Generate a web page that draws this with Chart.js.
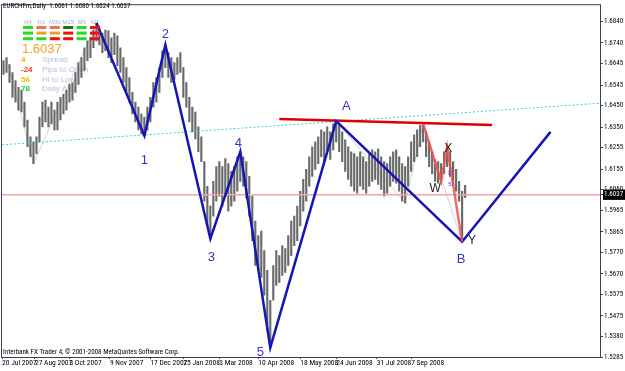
<!DOCTYPE html>
<html>
<head>
<meta charset="utf-8">
<script src="https://cdn.jsdelivr.net/npm/chart.js@4.4.1/dist/chart.umd.min.js"></script>
<style>
html, body { margin: 0; padding: 0; background: #fff; }
#wrap { width: 625px; height: 371px; }
</style>
</head>
<body>
<div id="wrap"><canvas id="chart" width="625" height="371"></canvas></div>
<script>
// EURCHFm daily bars, index 0 = 20 Jul 2007
const barHigh = [
    1.6658, 1.6672, 1.6640, 1.6603, 1.6566, 1.6534, 1.6521, 1.6466, 1.6383, 1.6305,
    1.6282, 1.6305, 1.6397, 1.6466, 1.6475, 1.6443, 1.6466, 1.6429, 1.6466, 1.6488,
    1.6502, 1.6521, 1.6548, 1.6557, 1.6603, 1.6649, 1.6672, 1.6718, 1.6750, 1.6764,
    1.6800, 1.6832, 1.6809, 1.6786, 1.6800, 1.6796, 1.6764, 1.6786, 1.6773, 1.6718,
    1.6672, 1.6626, 1.6580, 1.6511, 1.6466, 1.6443, 1.6411, 1.6397, 1.6443, 1.6488,
    1.6557, 1.6580, 1.6626, 1.6704, 1.6731, 1.6695, 1.6672, 1.6649, 1.6672, 1.6695,
    1.6626, 1.6557, 1.6488, 1.6443, 1.6420, 1.6351, 1.6305, 1.6190, 1.6076, 1.5984,
    1.6099, 1.6167, 1.6190, 1.6167, 1.6204, 1.6181, 1.6145, 1.6167, 1.6213, 1.6236,
    1.6213, 1.6190, 1.6122, 1.6030, 1.5915, 1.5847, 1.5869, 1.5778, 1.5686, 1.5548,
    1.5709, 1.5778, 1.5755, 1.5801, 1.5787, 1.5847, 1.5915, 1.5938, 1.5984, 1.6053,
    1.6108, 1.6154, 1.6213, 1.6259, 1.6282, 1.6305, 1.6337, 1.6328, 1.6351, 1.6328,
    1.6365, 1.6378, 1.6365, 1.6328, 1.6291, 1.6259, 1.6236, 1.6227, 1.6213, 1.6236,
    1.6213, 1.6190, 1.6227, 1.6245, 1.6236, 1.6250, 1.6213, 1.6190, 1.6181, 1.6213,
    1.6236, 1.6245, 1.6213, 1.6181, 1.6167, 1.6213, 1.6282, 1.6314, 1.6337, 1.6360,
    1.6365, 1.6328, 1.6282, 1.6236, 1.6200, 1.6190, 1.6181, 1.6236, 1.6259, 1.6236,
    1.6190, 1.6154, 1.6099, 1.6053, 1.6080
];
const barLow = [
    1.6594, 1.6603, 1.6557, 1.6488, 1.6466, 1.6429, 1.6420, 1.6351, 1.6259, 1.6213,
    1.6181, 1.6227, 1.6282, 1.6351, 1.6374, 1.6351, 1.6365, 1.6337, 1.6337, 1.6383,
    1.6411, 1.6429, 1.6466, 1.6475, 1.6511, 1.6548, 1.6580, 1.6612, 1.6658, 1.6672,
    1.6718, 1.6750, 1.6731, 1.6695, 1.6704, 1.6672, 1.6649, 1.6686, 1.6635, 1.6603,
    1.6557, 1.6502, 1.6466, 1.6411, 1.6374, 1.6337, 1.6319, 1.6310, 1.6337, 1.6374,
    1.6443, 1.6466, 1.6511, 1.6580, 1.6626, 1.6580, 1.6557, 1.6571, 1.6594, 1.6603,
    1.6488, 1.6443, 1.6374, 1.6328, 1.6296, 1.6236, 1.6190, 1.6007, 1.5892, 1.5833,
    1.5938, 1.6007, 1.6030, 1.5984, 1.6030, 1.5961, 1.5984, 1.6007, 1.6053, 1.6099,
    1.6076, 1.6021, 1.5938, 1.5824, 1.5709, 1.5686, 1.5654, 1.5571, 1.5411, 1.5328,
    1.5548, 1.5617, 1.5631, 1.5663, 1.5677, 1.5709, 1.5755, 1.5801, 1.5824, 1.5892,
    1.5961, 1.6007, 1.6076, 1.6122, 1.6154, 1.6181, 1.6213, 1.6190, 1.6236, 1.6200,
    1.6245, 1.6282, 1.6236, 1.6190, 1.6145, 1.6108, 1.6076, 1.6053, 1.6044, 1.6076,
    1.6062, 1.6044, 1.6076, 1.6099, 1.6108, 1.6085, 1.6062, 1.6030, 1.6044, 1.6076,
    1.6099, 1.6090, 1.6053, 1.6007, 1.5998, 1.6076, 1.6145, 1.6190, 1.6213, 1.6259,
    1.6282, 1.6213, 1.6167, 1.6135, 1.6099, 1.6090, 1.6099, 1.6135, 1.6167, 1.6122,
    1.6076, 1.6053, 1.6007, 1.5819, 1.6024
];

const dateLabels = ['20 Jul 2007', '27 Aug 2007', '3 Oct 2007', '9 Nov 2007', '17 Dec 2007', '25 Jan 2008',
    '3 Mar 2008', '10 Apr 2008', '18 May 2008', '24 Jun 2008', '31 Jul 2008', '7 Sep 2008'];
const dateIdx = [-0.5, 10.5, 22, 35.5, 49, 60, 72, 85, 99, 111, 124.5, 136];

const priceTicks = [1.6840, 1.6740, 1.6645, 1.6545, 1.6450, 1.6350, 1.6255, 1.6155, 1.6060,
    1.5965, 1.5865, 1.5770, 1.5670, 1.5575, 1.5475, 1.5380, 1.5285];
const lastPrice = 1.6037;

// elliott wave count
const waveIdx = [31, 47, 54, 69, 79, 89, 111, 153, 182.5];
const wavePrice = [1.6832, 1.6310, 1.6731, 1.5833, 1.6236, 1.5328, 1.6378, 1.5819, 1.6328];
const waveNames = ['', '1', '2', '3', '4', '5', 'A', 'B', ''];

// W-X-Y correction
const wxyIdx = [140, 146, 148, 153];
const wxyPrice = [1.6365, 1.6099, 1.6259, 1.5819];
const wxyNames = ['', 'W', 'X', 'Y'];

// zigzag indicator
const zigIdx = [1, 10, 31, 47, 54, 69, 79, 89, 111, 134, 140, 153];
const zigPrice = [1.6672, 1.6181, 1.6832, 1.6310, 1.6731, 1.5833, 1.6236, 1.5328, 1.6378, 1.5998, 1.6365, 1.5819];

// resistance and channel lines
const resIdx = [92, 163];
const resPrice = [1.6388, 1.6360];
const chanIdx = [-0.5, 199];
const chanPrice = [1.6268, 1.6461];

function pts(xs, ys) {
    return xs.map((x, i) => ({ x: x, y: ys[i] }));
}

const FONT = '"Liberation Sans", Arial, sans-serif';
const NARROW = '"Liberation Sans Narrow", "Roboto Condensed", "Liberation Sans", sans-serif';

const framePlugin = {
    id: 'frame',
    beforeDatasetsDraw(chart) {
        const a = chart.chartArea;
        const c = chart.ctx;
        c.save();
        c.strokeStyle = '#3c3c5c';
        c.lineWidth = 1;
        c.strokeRect(a.left - 0.5, a.top - 0.5, a.right - a.left + 1, a.bottom - a.top + 1);

        // terminal info panel (text part)
        c.textBaseline = 'middle';
        c.font = '7px ' + NARROW;
        c.fillStyle = '#000';
        c.fillText('EURCHFm,Daily  1.6061 1.6080 1.6024 1.6037', 3, 6);
        c.fillText('Interbank FX Trader 4, \u00a9 2001-2008 MetaQuotes Software Corp.', 3, 352);

        c.fillStyle = '#a8b0cc';
        c.font = '6px ' + FONT;
        c.textAlign = 'center';
        ['H4', 'H1', 'M30', 'M15', 'M5', 'M1'].forEach((t, k) => c.fillText(t, 28 + k * 13.4, 22));
        c.textAlign = 'left';

        c.font = '13px ' + FONT;
        c.fillStyle = '#f5a030';
        c.fillText('1.6037', 22, 49);

        const rows = [['4', '#f0b000', 'Spread'], ['-24', '#f04020', 'Pips to Open'],
            ['56', '#f0c000', 'Hi to Low'], ['78', '#20d020', 'Daily Avg']];
        rows.forEach((r, k) => {
            c.font = 'bold 8px ' + FONT;
            c.fillStyle = r[1];
            c.fillText(r[0], 21, 60 + k * 9.7);
            c.font = '8px ' + FONT;
            c.fillStyle = '#b8c0dc';
            c.fillText(r[2], 42, 60 + k * 9.7);
        });
        c.restore();
    },
    afterDatasetsDraw(chart) {
        const c = chart.ctx;
        const xs = chart.scales.x, ys = chart.scales.y;
        c.save();
        // signal blocks
        const cols = [
            ['#22dd22', '#22dd22', '#22dd22'],
            ['#f07058', '#f0a020', '#22dd22'],
            ['#f07058', '#f0a020', '#f01010'],
            ['#107810', '#f01010', '#f01010'],
            ['#22dd22', '#22dd22', '#22dd22'],
            ['#f01010', '#f01010', '#f01010']
        ];
        cols.forEach((col, k) => {
            col.forEach((clr, r) => {
                c.fillStyle = clr;
                c.fillRect(23 + k * 13.4, 26 + r * 5.6, 10, 3);
            });
        });

        // wave labels
        c.textAlign = 'center';
        c.textBaseline = 'middle';
        c.font = '13px ' + FONT;
        c.fillStyle = '#3434cc';
        const off = { '1': [0, 25], '2': [0, -10], '3': [1, 19], '4': [-2, -8], '5': [-10, 5], 'A': [10, -15], 'B': [-1, 18] };
        waveNames.forEach((n, i) => {
            if (!n) return;
            const px = xs.getPixelForValue(waveIdx[i]) + off[n][0];
            const py = ys.getPixelForValue(wavePrice[i]) + off[n][1];
            c.fillText(n, px, py);
        });
        c.font = '12px ' + FONT;
        c.fillStyle = '#222';
        const off2 = { 'W': [-6, 7], 'X': [1, 2], 'Y': [10, -1] };
        wxyNames.forEach((n, i) => {
            if (!n) return;
            const px = xs.getPixelForValue(wxyIdx[i]) + off2[n][0];
            const py = ys.getPixelForValue(wxyPrice[i]) + off2[n][1];
            c.fillText(n, px, py);
        });
        c.font = '6px ' + FONT;
        c.fillStyle = '#4040e0';
        c.fillText('3', 449, 173);
        c.fillText('5', 450, 184);
        c.restore();
    }
};

const ctx = document.getElementById('chart').getContext('2d');

new Chart(ctx, {
    type: 'bar',
    data: {
        datasets: [{
            type: 'line',
            data: pts(wxyIdx, wxyPrice),
            borderColor: 'rgba(240, 80, 80, 0.85)',
            borderWidth: 2.5,
            pointRadius: 0,
            order: 1
        }, {
            type: 'line',
            data: pts(waveIdx, wavePrice),
            borderColor: '#1616b8',
            borderWidth: 2.5,
            pointRadius: 0,
            order: 2
        }, {
            type: 'line',
            data: pts(resIdx, resPrice),
            borderColor: '#e00000',
            borderWidth: 2.5,
            pointRadius: 0,
            order: 3
        }, {
            type: 'line',
            data: pts(chanIdx, chanPrice),
            borderColor: '#40c8e0',
            borderWidth: 1,
            borderDash: [2, 2],
            pointRadius: 0,
            order: 4
        }, {
            type: 'line',
            data: pts([-0.5, 199], [lastPrice, lastPrice]),
            borderColor: '#f4a4a4',
            borderWidth: 1.5,
            pointRadius: 0,
            order: 5
        }, {
            type: 'bar',
            data: barHigh.map((h, i) => ({ x: i, y: [barLow[i], h] })),
            backgroundColor: '#6a6a6a',
            borderWidth: 0,
            barThickness: 1.5,
            order: 6
        }, {
            type: 'line',
            data: pts(zigIdx, zigPrice),
            borderColor: '#d4d4d4',
            borderWidth: 1,
            pointRadius: 0,
            order: 7
        }]
    },
    options: {
        responsive: false,
        animation: false,
        events: [],
        layout: { padding: { left: 2, top: 2, right: 0, bottom: 0 } },
        plugins: {
            legend: { display: false },
            tooltip: { enabled: false }
        },
        scales: {
            x: {
                type: 'linear',
                offset: false,
                min: -0.5,
                max: 199,
                afterBuildTicks: s => { s.ticks = dateIdx.map(v => ({ value: v })); },
                afterFit: s => { s.height = 14; },
                grid: { drawOnChartArea: false, drawTicks: true, tickLength: 2, color: '#3c3c5c', offset: false },
                border: { display: false },
                ticks: {
                    autoSkip: false,
                    maxRotation: 0,
                    align: 'start',
                    padding: 0,
                    color: '#000',
                    font: { family: NARROW, size: 7.5 },
                    callback: (v, i) => dateLabels[i]
                }
            },
            y: {
                position: 'right',
                min: 1.5285,
                max: 1.6915,
                afterBuildTicks: s => { s.ticks = priceTicks.concat([lastPrice]).map(v => ({ value: v })); },
                afterFit: s => { s.width = 25; },
                grid: { drawOnChartArea: false, drawTicks: true, tickLength: 3, color: '#3c3c5c' },
                border: { display: false },
                ticks: {
                    padding: 1,
                    crossAlign: 'near',
                    font: { family: NARROW, size: 7 },
                    color: c => (c.tick && c.tick.value === lastPrice) ? '#fff' : '#000',
                    showLabelBackdrop: c => !!(c.tick && c.tick.value === lastPrice),
                    backdropColor: '#000',
                    backdropPadding: { top: 1, bottom: 1, left: 1, right: 3 },
                    callback: v => v.toFixed(4)
                }
            }
        }
    },
    plugins: [framePlugin]
});
</script>
</body>
</html>
